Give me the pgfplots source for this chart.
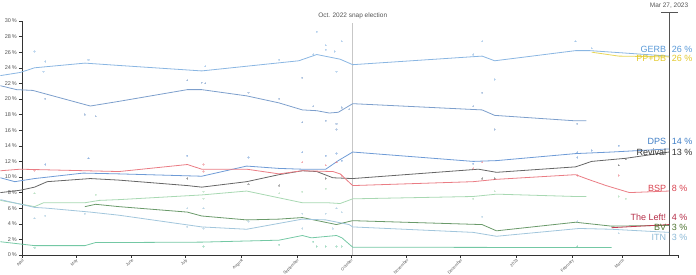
\documentclass[border=0pt]{standalone}
\usepackage{pgfplots}
\pgfplotsset{compat=1.18}
\usepackage{fontspec}
\setmainfont{Liberation Sans}
\definecolor{axisgray}{HTML}{333333}
\definecolor{tickgray}{HTML}{555555}
\definecolor{cGERB}{HTML}{8AB6E2}
\definecolor{cPP}{HTML}{7D9FCC}
\definecolor{cPPDB}{HTML}{E8D657}
\definecolor{cDPS}{HTML}{6E9BD6}
\definecolor{cREV}{HTML}{666666}
\definecolor{cBSP}{HTML}{EA7C84}
\definecolor{cLEFT}{HTML}{C23A52}
\definecolor{cBV}{HTML}{6A9A6A}
\definecolor{cITN}{HTML}{A2C6DC}
\definecolor{cDB}{HTML}{A8D8B2}
\definecolor{cTEAL}{HTML}{74C8A4}
\definecolor{lGERB}{HTML}{5A9AD8}
\definecolor{lPPDB}{HTML}{E3C92A}
\definecolor{lDPS}{HTML}{3F7EC6}
\definecolor{lREV}{HTML}{333333}
\definecolor{lBSP}{HTML}{D9424F}
\definecolor{lLEFT}{HTML}{B52E48}
\definecolor{lBV}{HTML}{4D7330}
\definecolor{lITN}{HTML}{8CB9D6}
\begin{document}
\begin{tikzpicture}
\begin{axis}[
  scale only axis, width=656pt, height=234pt,
  xmin=0, xmax=365, ymin=0, ymax=30,
  axis x line=bottom, axis y line=left,
  axis line style={-, draw=axisgray, line width=0.6pt},
  clip=false,
  ytick={0,2,...,30},
  yticklabel={\pgfmathprintnumber{\tick}\,\%},
  xtick={0,30,61,91,122,153,183,214,244,275,306,334,365},
  xticklabels={April,May,June,July,August,September,October,November,December,2023,February,March,},
  x tick label style={rotate=45, anchor=north east, font=\fontsize{4.1}{5}\selectfont, text=tickgray, inner sep=0.3pt},
  y tick label style={font=\fontsize{5.5}{6}\selectfont, text=tickgray, inner sep=2pt},
  /pgf/number format/assume math mode=true,
  tick align=outside, major tick length=3pt,
  tick style={draw=axisgray, line width=0.5pt},
  every axis plot/.append style={line width=0.8pt},
  dots/.style={only marks, mark=*, mark size=0.6pt, opacity=0.25, line width=0pt},
]
% election line
\draw[draw=black!22, line width=0.8pt] (axis cs:184,0) -- (axis cs:184,29.7);
\node[font=\fontsize{6.5}{7}\selectfont, text=tickgray, inner sep=0pt] at (axis cs:184,30.6) {Oct. 2022 snap election};
% Mar 27 line
\draw[draw=tickgray, line width=0.8pt] (axis cs:360,0) -- (axis cs:360,31.1);
\draw[draw=tickgray, line width=0.6pt] (axis cs:355.5,31.1) -- (axis cs:365,31.1);
\node[font=\fontsize{6.5}{7}\selectfont, text=tickgray, inner sep=0pt] at (axis cs:360,32.0) {Mar 27, 2023};

% poll dots
\addplot[dots, color=cGERB] coordinates {(7,26.1) (13,24.8) (12,23.5) (37,25.0) (102,24.2) (143,25.0) (162,25.7) (169,26.9) (169,26.3) (174,26.1) (175,23.5) (178,27.4) (164,28.6) (256,27.4) (251,25.7) (263,22.5) (308,27.4) (317,26.5)};
\addplot[dots, color=cPP] coordinates {(13,20.0) (35,18.0) (41,17.8) (92,22.4) (100,22.1) (102,22.0) (126,20.8) (143,20.0) (156,22.7) (156,17.0) (162,19.1) (169,17.2) (175,16.8) (175,16.1) (182,18.7) (178,18.9) (256,20.8) (251,19.1) (263,16.1) (309,16.8)};
\addplot[dots, color=cDPS] coordinates {(37,12.4) (13,11.6) (92,12.7) (126,12.5) (156,13.2) (169,12.7) (175,13.0) (178,12.1) (251,11.7) (309,13.2) (309,12.5) (317,13.4) (332,14.0)};
\addplot[dots, color=cREV] coordinates {(92,9.8) (126,9.1) (143,8.9) (169,9.8) (256,9.8) (263,9.8) (336,12.3) (332,11.5)};
\addplot[dots, color=cBSP] coordinates {(7,10.8) (101,11.6) (101,10.7) (156,11.9) (169,11.5) (175,11.9) (178,10.2) (251,11.1) (256,11.9) (309,10.2) (332,10.2)};
\addplot[dots, color=cDB] coordinates {(7,7.9) (41,7.7) (101,8.1) (101,7.2) (143,7.9) (156,8.1) (169,8.5) (251,7.2) (263,8.2) (332,7.5) (336,7.2)};
\addplot[dots, color=cITN] coordinates {(7,4.7) (13,5.0) (35,5.3) (92,6.0) (101,6.0) (92,3.6) (101,3.4) (126,4.3) (156,5.3) (156,3.4) (169,5.3) (175,6.0) (173,3.4) (178,5.5) (256,4.9) (309,4.3) (332,2.8)};
\addplot[dots, color=cTEAL] coordinates {(7,0.9) (101,1.1) (143,1.3) (162,1.7) (164,1.1) (169,1.1) (175,1.1) (178,1.1) (309,1.1)};

% GERB
\addplot[cGERB, no markers] coordinates {(-12,23.0) (-1,23.4) (7,24.0) (35,24.6) (54,24.3) (100,23.6) (154,24.9) (164,25.7) (177,25.1) (184,24.4) (256,25.5) (263,24.9) (308,26.2) (316,26.2) (360,25.5)};
% PP
\addplot[cPP, no markers] coordinates {(-12,21.7) (-3,21.2) (6,21.1) (38,19.1) (54,19.7) (92,21.2) (100,21.2) (125,20.4) (143,19.5) (156,18.6) (164,18.5) (171,18.2) (176,18.3) (184,19.4) (256,18.6) (263,17.9) (308,17.2) (314,17.2)};
% PP-DB
\addplot[cPPDB, no markers] coordinates {(317,26.0) (332,25.5) (360,25.4)};
% DPS
\addplot[cDPS, no markers] coordinates {(-12,9.9) (-4,9.4) (7,9.8) (34,10.5) (54,10.4) (100,10.1) (125,11.4) (143,11.1) (156,11.0) (169,11.0) (176,12.1) (184,13.2) (251,12.0) (264,12.1) (308,13.0) (328,13.2) (360,13.6)};
% Revival
\addplot[cREV, no markers] coordinates {(-12,8.0) (-1,8.3) (7,8.7) (14,9.4) (38,9.8) (54,9.6) (92,8.9) (100,8.7) (125,9.4) (143,10.3) (156,10.8) (164,10.7) (173,9.9) (184,9.8) (254,11.0) (264,10.6) (308,11.3) (317,12.0) (336,12.4) (360,13.2)};
% BSP
\addplot[cBSP, no markers] coordinates {(-12,10.8) (-1,11.0) (54,10.7) (92,11.6) (100,11.0) (125,11.0) (143,10.4) (156,10.8) (173,10.7) (177,10.4) (184,8.9) (251,9.4) (264,9.7) (308,10.3) (315,9.7) (325,8.9) (338,8.0) (360,8.2)};
% DB
\addplot[cDB, no markers] coordinates {(-12,7.0) (7,6.2) (12,6.7) (35,6.7) (43,7.0) (54,7.1) (100,7.7) (125,8.2) (156,6.7) (170,6.7) (177,6.6) (184,7.2) (251,7.5) (264,7.8) (308,7.5) (314,7.5)};
% BV
\addplot[cBV, no markers] coordinates {(35,6.2) (41,6.5) (54,6.2) (92,5.5) (100,5.0) (125,4.5) (143,4.6) (156,4.8) (175,3.9) (182,4.3) (184,4.4) (256,3.9) (264,3.1) (308,4.2) (328,3.7) (360,3.8)};
% ITN
\addplot[cITN, no markers] coordinates {(-12,7.1) (7,6.1) (14,6.0) (38,5.5) (54,5.1) (100,3.6) (125,3.3) (156,4.6) (169,4.5) (182,3.9) (184,3.6) (251,2.9) (264,2.4) (310,3.4) (328,3.3) (360,2.9)};
% bottom teal
\addplot[cTEAL, no markers] coordinates {(-12,1.7) (7,1.2) (35,1.2) (41,1.6) (54,1.6) (100,1.65) (143,1.9) (156,2.5) (161,2.2) (175,2.5) (178,2.2) (182,1.4) (184,1.0) (328,0.95)};
% The Left!
\addplot[cLEFT, no markers] coordinates {(328,3.5) (360,3.9)};

% end labels
\begin{scope}[every node/.style={font=\fontsize{9}{10}\selectfont, inner sep=0pt}]
\node[anchor=east, text=lGERB] at (axis cs:358.5,26.4) {GERB};
\node[anchor=west, text=lGERB] at (axis cs:361.5,26.4) {26 \%};
\node[anchor=east, text=lPPDB] at (axis cs:358.5,25.2) {PP+DB};
\node[anchor=west, text=lPPDB] at (axis cs:361.5,25.2) {26 \%};
\node[anchor=east, text=lDPS] at (axis cs:358.5,14.5) {DPS};
\node[anchor=west, text=lDPS] at (axis cs:361.5,14.5) {14 \%};
\node[anchor=east, text=lREV] at (axis cs:358.5,13.2) {Revival};
\node[anchor=west, text=lREV] at (axis cs:361.5,13.2) {13 \%};
\node[anchor=east, text=lBSP] at (axis cs:358.5,8.5) {BSP};
\node[anchor=west, text=lBSP] at (axis cs:361.5,8.5) {8 \%};
\node[anchor=east, text=lLEFT] at (axis cs:358.5,4.8) {The Left!};
\node[anchor=west, text=lLEFT] at (axis cs:361.5,4.8) {4 \%};
\node[anchor=east, text=lBV] at (axis cs:358.5,3.55) {BV};
\node[anchor=west, text=lBV] at (axis cs:361.5,3.55) {3 \%};
\node[anchor=east, text=lITN] at (axis cs:358.5,2.3) {ITN};
\node[anchor=west, text=lITN] at (axis cs:361.5,2.3) {3 \%};
\end{scope}
\end{axis}
\pgfresetboundingbox
\path ([xshift=-22pt,yshift=-20pt]current axis.south west) rectangle ([xshift=18pt,yshift=21pt]current axis.north east);
\end{tikzpicture}
\end{document}
